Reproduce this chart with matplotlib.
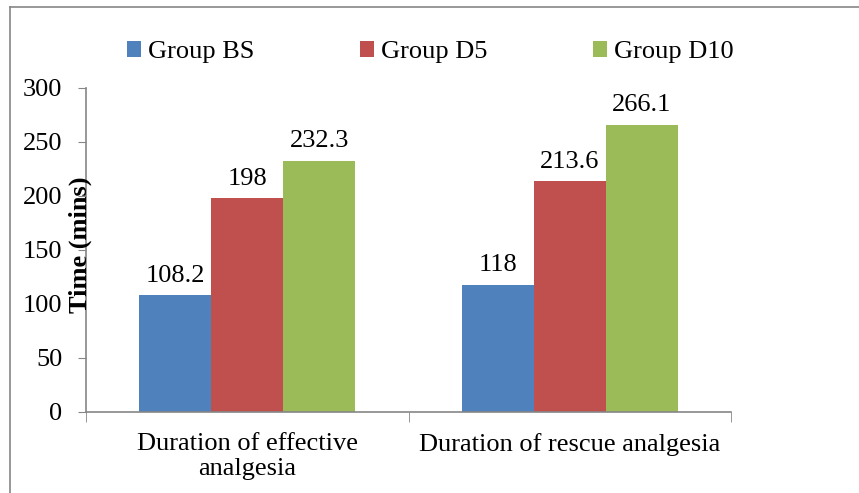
import numpy as np
import matplotlib.pyplot as plt
from matplotlib.lines import Line2D

plt.rcParams['font.family'] = 'serif'
plt.rcParams['font.serif'] = ['Liberation Serif', 'Times New Roman', 'DejaVu Serif']

categories = ["Duration of effective\nanalgesia", "Duration of rescue analgesia"]
groups = ["Group BS", "Group D5", "Group D10"]
values = {
    "Group BS": [108.2, 118],
    "Group D5": [198, 213.6],
    "Group D10": [232.3, 266.1],
}
labels = {
    "Group BS": ["108.2", "118"],
    "Group D5": ["198", "213.6"],
    "Group D10": ["232.3", "266.1"],
}
colors = ["#4F81BD", "#C0504D", "#9BBB59"]
fs = 19

W, H = 859, 493
fig = plt.figure(figsize=(W / 100, H / 100), dpi=100)
ax = fig.add_axes([86 / W, 1 - 412 / H, (731 - 86) / W, (412 - 88) / H])

x = np.arange(len(categories))
bw = 0.2236
for i, (g, c) in enumerate(zip(groups, colors)):
    pos = x + (i - 1) * bw
    ax.bar(pos, values[g], width=bw, color=c, label=g, zorder=2)
    for p, v, t in zip(pos, values[g], labels[g]):
        ax.text(p, v + 8, t, ha="center", va="bottom", fontsize=fs)

ax.set_xlim(-0.5, 1.5)
ax.set_ylim(0, 300)
ax.set_yticks(range(0, 301, 50))
ax.tick_params(axis="y", labelsize=fs, length=6, color="#868686", pad=11)
ax.set_xticks(x)
ax.set_xticklabels(categories, fontsize=fs, linespacing=1.2)
ax.tick_params(axis="x", length=0, pad=15)
ax.set_xticks([-0.5, 0.5, 1.5], minor=True)
ax.tick_params(axis="x", which="minor", length=7, color="#868686")

for s in ["top", "right"]:
    ax.spines[s].set_visible(False)
for s in ["left", "bottom"]:
    ax.spines[s].set_color("#868686")
    ax.spines[s].set_linewidth(1.2)

fig.text(80 / W, 1 - 245 / H, "Time (mins)", rotation=90, ha="center", va="center",
         fontsize=fs, fontweight="bold")

ax.legend(loc="center", bbox_to_anchor=(430 / W, 1 - 52 / H), bbox_transform=fig.transFigure,
          ncol=3, frameon=False, fontsize=fs, handlelength=0.55, handleheight=0.55,
          handletextpad=0.25, columnspacing=4.0)

# chart frame (top and left edges visible)
fig.add_artist(Line2D([10 / W, 1.0], [1 - 7 / H, 1 - 7 / H], transform=fig.transFigure,
                      color="#868686", lw=1.2))
fig.add_artist(Line2D([10 / W, 10 / W], [0, 1 - 7 / H], transform=fig.transFigure,
                      color="#868686", lw=1.2))

fig.savefig("out.png", dpi=100)
